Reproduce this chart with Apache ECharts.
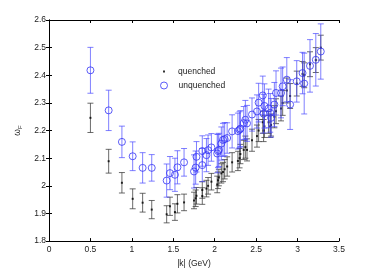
<!DOCTYPE html>
<html>
<head>
<meta charset="utf-8">
<script src="https://cdn.jsdelivr.net/npm/echarts@6/dist/echarts.min.js"></script>
<style>html,body{margin:0;padding:0;background:#fff}#c{width:374px;height:273px}</style>
</head>
<body>
<div id="c"></div>
<script>
// momentum |k| (GeV), shared by both data sets
var momenta = [0.50,0.72,0.88,1.01,1.13,1.24,1.42,1.46,1.52,1.55,1.63,1.75,1.77,1.78,1.85,1.85,1.90,1.92,1.96,2.03,2.04,2.05,2.08,2.10,2.12,2.15,2.21,2.28,2.30,2.31,2.35,2.37,2.39,2.45,2.51,2.53,2.58,2.59,2.60,2.65,2.67,2.68,2.72,2.74,2.80,2.82,2.87,2.91,2.99,3.06,3.08,3.15,3.22,3.28];
var unquenched = [2.418,2.273,2.159,2.107,2.065,2.065,2.019,2.046,2.040,2.067,2.085,2.052,2.066,2.105,2.075,2.126,2.111,2.129,2.139,2.117,2.126,2.130,2.153,2.166,2.169,2.173,2.197,2.198,2.203,2.207,2.227,2.239,2.226,2.258,2.269,2.301,2.327,2.261,2.289,2.280,2.264,2.246,2.294,2.336,2.336,2.360,2.384,2.294,2.378,2.408,2.370,2.434,2.456,2.486];
var unquenchedErr = [0.083,0.073,0.057,0.052,0.055,0.048,0.060,0.060,0.060,0.060,0.050,0.060,0.060,0.055,0.060,0.055,0.060,0.055,0.050,0.070,0.060,0.060,0.060,0.060,0.060,0.055,0.060,0.065,0.065,0.065,0.060,0.070,0.065,0.060,0.060,0.070,0.070,0.070,0.080,0.070,0.070,0.070,0.080,0.080,0.090,0.070,0.080,0.090,0.075,0.075,0.110,0.095,0.095,0.100];
var quenched = [2.246,2.089,2.011,1.953,1.939,1.914,1.897,1.926,1.905,1.935,1.940,1.947,1.955,1.964,1.963,1.985,1.990,2.000,2.015,2.005,2.020,2.030,2.045,2.050,2.060,2.070,2.085,2.090,2.100,2.115,2.130,2.140,2.130,2.165,2.180,2.200,2.230,2.200,2.215,2.230,2.215,2.220,2.250,2.270,2.280,2.300,2.345,2.325,2.370,2.405,2.400,2.440,2.455,2.500];
var quenchedErr = [0.053,0.043,0.037,0.036,0.034,0.033,0.031,0.033,0.030,0.033,0.030,0.030,0.030,0.030,0.030,0.030,0.030,0.030,0.030,0.030,0.030,0.030,0.035,0.035,0.035,0.035,0.035,0.035,0.035,0.035,0.035,0.040,0.040,0.040,0.040,0.040,0.040,0.040,0.040,0.040,0.040,0.040,0.040,0.045,0.045,0.045,0.045,0.045,0.045,0.045,0.045,0.045,0.045,0.045];
var xTicks = ['0','0.5','1','1.5','2','2.5','3','3.5'];
var yTicks = ['1.8','1.9','2','2.1','2.2','2.3','2.4','2.5','2.6'];

var BLUE = '#3535f5';
var FONT = 'Liberation Sans, Arial, sans-serif';

function pts(v){ return momenta.map(function(k,i){ return [k, v[i]]; }); }
function bars(v,e){ return momenta.map(function(k,i){ return [k, v[i]-e[i], v[i]+e[i]]; }); }
function errRender(color, opacity){
  return function(params, api){
    var x = api.value(0), lo = api.value(1), hi = api.value(2);
    var a = api.coord([x, hi]), b = api.coord([x, lo]);
    var w = 3;
    var st = {stroke: color, lineWidth: 1, opacity: opacity};
    return {type:'group', children:[
      {type:'line', shape:{x1:a[0],y1:a[1],x2:b[0],y2:b[1]}, style:st},
      {type:'line', shape:{x1:a[0]-w,y1:a[1],x2:a[0]+w,y2:a[1]}, style:st},
      {type:'line', shape:{x1:b[0]-w,y1:b[1],x2:b[0]+w,y2:b[1]}, style:st}
    ]};
  };
}

var axisCommon = {
  axisLine:{show:true, lineStyle:{color:'#000', width:1}},
  axisTick:{show:true, inside:true, length:3, lineStyle:{color:'#000'}},
  splitLine:{show:false}
};

var chart = echarts.init(document.getElementById('c'), null, {renderer:'canvas'});
chart.setOption({
  backgroundColor:'#fff',
  animation:false,
  textStyle:{fontFamily:FONT},
  grid:{left:49, right:35, top:20, bottom:31},
  legend:[
    {data:[{name:'quenched', icon:'rect', itemStyle:{color:'#000', borderWidth:0}}],
     orient:'vertical', left:158, top:62, itemWidth:2, itemHeight:2,
     textStyle:{fontSize:8.5, color:'#222', fontFamily:FONT, padding:[0,0,0,8]}},
    {data:[{name:'unquenched', icon:'circle', itemStyle:{color:'rgba(0,0,0,0)', borderColor:BLUE, borderWidth:1}}],
     orient:'vertical', left:155, top:76, itemWidth:7, itemHeight:7,
     textStyle:{fontSize:8.5, color:'#222', fontFamily:FONT, padding:[0,0,0,6]}}
  ],
  xAxis:[
    Object.assign({}, axisCommon, {type:'value', position:'bottom', min:0, max:3.5, interval:0.5,
      name:'|k| (GeV)', nameLocation:'middle', nameGap:11,
      nameTextStyle:{fontSize:8.5, color:'#222', fontFamily:FONT},
      axisLabel:{fontSize:8.5, color:'#222', margin:4, fontFamily:FONT,
        formatter:function(v){ var i=Math.round(v/0.5); return xTicks[i]; }}}),
    Object.assign({}, axisCommon, {type:'value', position:'top', min:0, max:3.5, interval:0.5,
      axisLabel:{show:false}})
  ],
  yAxis:[
    Object.assign({}, axisCommon, {type:'value', position:'left', min:1.8, max:2.6, interval:0.1,
      name:'{a|ω}{b|F}', nameLocation:'middle', nameGap:23, nameRotate:90,
      nameTextStyle:{fontSize:8.5, color:'#222', fontFamily:FONT,
        rich:{a:{fontSize:8.5, color:'#222'}, b:{fontSize:6, color:'#222', verticalAlign:'bottom', padding:[5,0,0,0]}}},
      axisLabel:{fontSize:8.5, color:'#222', margin:3, fontFamily:FONT,
        formatter:function(v){ var i=Math.round((v-1.8)/0.1); return yTicks[i]; }}}),
    Object.assign({}, axisCommon, {type:'value', position:'right', min:1.8, max:2.6, interval:0.1,
      axisLabel:{show:false}})
  ],
  series:[
    {type:'custom', name:'qErr', data:bars(quenched, quenchedErr), renderItem:errRender('#3a3a3a', 0.75),
     encode:{x:0, y:[1,2]}, z:2, silent:true},
    {type:'scatter', name:'quenched', data:pts(quenched), symbol:'rect', symbolSize:2,
     itemStyle:{color:'#000'}, z:3},
    {type:'custom', name:'uErr', data:bars(unquenched, unquenchedErr), renderItem:errRender('#4a4aff', 0.7),
     encode:{x:0, y:[1,2]}, z:4, silent:true},
    {type:'scatter', name:'unquenched', data:pts(unquenched), symbol:'circle', symbolSize:7,
     itemStyle:{color:'rgba(0,0,0,0)', borderColor:BLUE, borderWidth:1}, z:5}
  ]
});
</script>
</body>
</html>
